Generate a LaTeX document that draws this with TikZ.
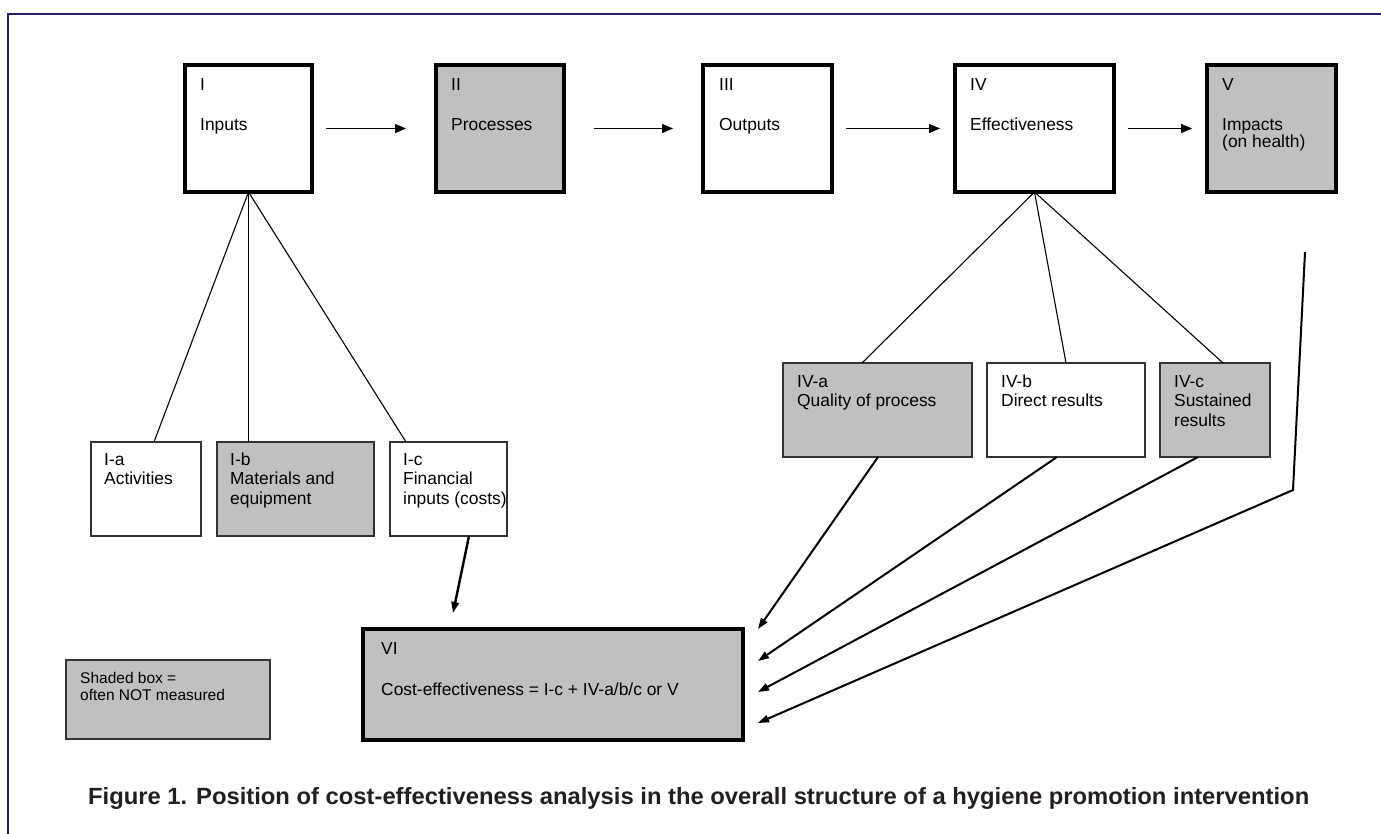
\documentclass[tikz,border=0pt]{standalone}
\usepackage{graphicx}
\usepackage{fontspec}
\setmainfont{Liberation Sans}
\usetikzlibrary{arrows.meta,calc}
\definecolor{framecol}{HTML}{2E1A6E}
\definecolor{shade}{HTML}{C0C0C0}
\definecolor{edgecol}{HTML}{333333}
\definecolor{captxt}{HTML}{231F20}
\begin{document}
\begin{tikzpicture}[x=1pt,y=-1pt,
  topbox/.style={draw=black, line width=3.3pt, minimum height=127pt, inner sep=0pt, outer sep=0pt},
  smallbox/.style={draw=edgecol, line width=1.3pt, minimum height=94pt, inner sep=0pt, outer sep=0pt},
  bigtxt/.style={anchor=base west, inner sep=0pt, font=\fontsize{17.4pt}{19.5pt}\selectfont},
  legtxt/.style={anchor=base west, inner sep=0pt, font=\fontsize{15.5pt}{17pt}\selectfont},
  thinline/.style={draw=black, line width=1.1pt},
  toparrow/.style={draw=black, line width=1.3pt, -{Triangle[length=11pt,width=9pt]}},
  cearrow/.style={draw=black, line width=2pt, -{Triangle[length=11pt,width=7.5pt]}}
]
\useasboundingbox (0,0) rectangle (1381,834);
\fill[white] (0,0) rectangle (1381,834);
% frame
\draw[framecol, line width=2.7pt] (8,834) -- (8,14) -- (1381,14);

% top row
\node[topbox, fill=white, minimum width=127pt] (I) at (248.5,128.5) {};
\node[topbox, fill=shade, minimum width=128pt] (II) at (500,128.5) {};
\node[topbox, fill=white, minimum width=129pt] (III) at (767.5,128.5) {};
\node[topbox, fill=white, minimum width=159pt] (IV) at (1034.5,128.5) {};
\node[topbox, fill=shade, minimum width=129pt] (V) at (1271.5,128.5) {};

\node[bigtxt] (Il1) at (200,91) {I};
\node[bigtxt] (Il2) at (200,130.5) {Inputs};
\node[bigtxt] (IIl1) at (451,91) {II};
\node[bigtxt] (IIl2) at (451,130.5) {Processes};
\node[bigtxt] (IIIl1) at (719,91) {III};
\node[bigtxt] (IIIl2) at (719,130.5) {Outputs};
\node[bigtxt] (IVl1) at (970,91) {IV};
\node[bigtxt] (IVl2) at (970,130.5) {Effectiveness};
\node[bigtxt] (Vl1) at (1222,91) {V};
\node[bigtxt] (Vl2) at (1222,130.5) {Impacts};
\node[bigtxt] (Vl3) at (1222,147.5) {(on health)};

\draw[toparrow, shorten <=14pt, shorten >=30pt] (I.east) -- (II.west);
\draw[toparrow, shorten <=30pt, shorten >=30pt] (II.east) -- (III.west);
\draw[toparrow, shorten <=14pt, shorten >=15pt] (III.east) -- (IV.west);
\draw[toparrow, shorten <=14pt, shorten >=15pt] (IV.east) -- (V.west);

% input sub-boxes
\node[smallbox, fill=white, minimum width=110pt] (Ia) at (146,489) {};
\node[smallbox, fill=shade, minimum width=157pt] (Ib) at (295.5,489) {};
\node[smallbox, fill=white, minimum width=117pt] (Ic) at (448.5,489) {};
\node[bigtxt] (Ial1) at (104,465) {I-a};
\node[bigtxt] (Ial2) at (104,484.5) {Activities};
\node[bigtxt] (Ibl1) at (230,465) {I-b};
\node[bigtxt] (Ibl2) at (230,484.5) {Materials and};
\node[bigtxt] (Ibl3) at (230,504) {equipment};
\node[bigtxt] (Icl1) at (403,465) {I-c};
\node[bigtxt] (Icl2) at (403,484.5) {Financial};
\node[bigtxt] (Icl3) at (403,504) {inputs (costs)};

% effectiveness sub-boxes
\node[smallbox, fill=shade, minimum width=189pt] (IVa) at (877.5,410) {};
\node[smallbox, fill=white, minimum width=158pt] (IVb) at (1066,410) {};
\node[smallbox, fill=shade, minimum width=110pt] (IVc) at (1215,410) {};
\node[bigtxt] (IVal1) at (797,387) {IV-a};
\node[bigtxt] (IVal2) at (797,406.5) {Quality of process};
\node[bigtxt] (IVbl1) at (1001,387) {IV-b};
\node[bigtxt] (IVbl2) at (1001,406.5) {Direct results};
\node[bigtxt] (IVcl1) at (1174,387) {IV-c};
\node[bigtxt] (IVcl2) at (1174,406.5) {Sustained};
\node[bigtxt] (IVcl3) at (1174,426) {results};

% tree lines
\draw[thinline] (I.south) -- ($(Ia.north west)+(63,0)$);
\draw[thinline] (I.south) -- (I.south |- Ib.north);
\draw[thinline] (I.south) -- ($(Ic.north west)+(16,0)$);
\draw[thinline] (IV.south) -- ($(IVa.north west)+(79,0)$);
\draw[thinline] (IV.south) -- (IVb.north);
\draw[thinline] (IV.south) -- ($(IVc.north west)+(63,0)$);

% legend and VI
\node[smallbox, fill=shade, minimum width=204pt, minimum height=79pt] (leg) at (168,699.5) {};
\node[legtxt] (legl1) at (80,683) {Shaded box =};
\node[legtxt] (legl2) at (80,700) {often NOT measured};
\node[topbox, fill=shade, minimum width=380pt, minimum height=111pt] (VI) at (553,684.5) {};
\node[bigtxt] (VIl1) at (381,654) {VI};
\node[bigtxt] (VIl2) at (381,695) {Cost-effectiveness = I-c + IV-a/b/c or V};

% arrows into VI
\coordinate (t1) at ($(VI.north west)+(90,-16)$);
\coordinate (t2) at ($(VI.north east)+(15,0)$);
\coordinate (t3) at ($(VI.north east)+(15,32)$);
\coordinate (t4) at ($(VI.east)+(15,7.5)$);
\coordinate (t5) at ($(VI.south east)+(15,-17)$);
\coordinate (vtop) at ($(V.south east)+(-31,60)$);
\coordinate (vbend) at ($(V.south east)+(-43,298)$);
\draw[cearrow, line width=2.4pt] ($(Ic.south west)+(79,0)$) -- (t1);
\draw[cearrow] ($(IVa.south west)+(95,0)$) -- (t2);
\draw[cearrow] ($(IVb.south west)+(70,0)$) -- (t3);
\draw[cearrow] ($(IVc.south west)+(38,0)$) -- (t4);
\draw[cearrow] (vtop) -- (vbend) -- (t5);

% caption
\node[anchor=base west, inner sep=0pt, text=captxt] (cap) at (88,804)
  {\resizebox{1221pt}{17pt}{\fontsize{21pt}{25pt}\selectfont\bfseries Figure 1. Position of cost-effectiveness analysis in the overall structure of a hygiene promotion intervention}};
\end{tikzpicture}
\end{document}
